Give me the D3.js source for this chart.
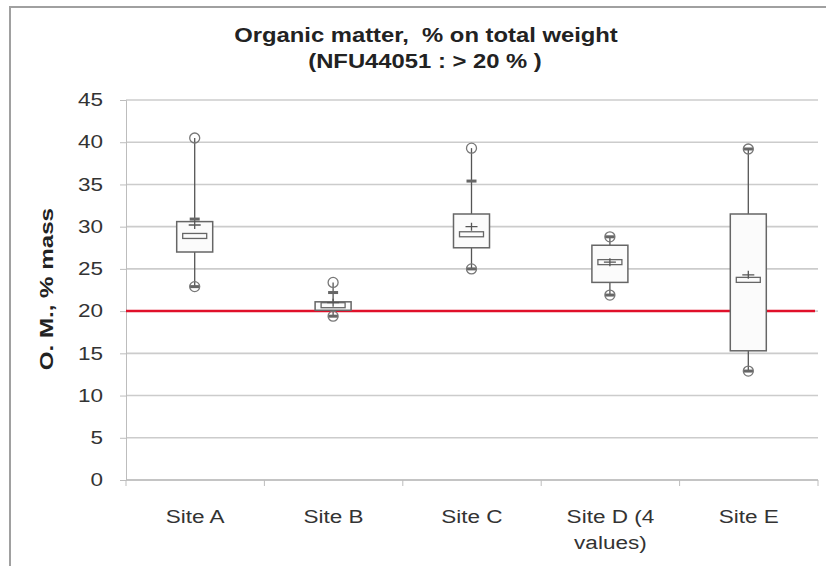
<!DOCTYPE html>
<html>
<head>
<meta charset="utf-8">
<script src="https://cdn.jsdelivr.net/npm/d3@7"></script>
<style>
  body { margin: 0; background: #fff; }
  svg { display: block; font-family: "Liberation Sans", Arial, sans-serif; }
</style>
</head>
<body>
<script>
// categories and box statistics
var sites = ['Site A', 'Site B', 'Site C', 'Site D (4|values)', 'Site E'];
var mins    = [22.9, 19.4, 25.0, 21.9, 12.9];
var p10     = [22.9, 19.4, 25.0, 21.9, 12.9];
var q1s     = [27.0, 20.1, 27.5, 23.4, 15.3];
var medians = [28.9, 20.7, 29.1, 25.8, 23.7];
var means   = [30.2, 21.0, 30.0, 25.8, 24.3];
var q3s     = [30.6, 21.1, 31.5, 27.8, 31.5];
var p90     = [30.9, 22.2, 35.4, 28.8, 39.2];
var maxs    = [40.5, 23.4, 39.3, 28.8, 39.2];
var yTicks  = [0, 5, 10, 15, 20, 25, 30, 35, 40, 45];
var limit   = 20; // NFU44051 threshold

var width = 826, height = 566;
var margin = {top: 100, right: 8, bottom: 86, left: 126};

// the original picture is stretched sideways, so widen the text a bit
function stretch(sel, k) {
    sel.each(function() {
        var w = this.getComputedTextLength();
        d3.select(this)
            .attr('textLength', w * k)
            .attr('lengthAdjust', 'spacingAndGlyphs');
    });
}

var svg = d3.select('body').append('svg')
    .attr('width', width)
    .attr('height', height);

// outer chart frame
svg.append('rect')
    .attr('x', 10).attr('y', 7)
    .attr('width', width + 20).attr('height', height + 20)
    .attr('fill', '#fff')
    .attr('stroke', '#a0a0a0')
    .attr('stroke-width', 2);

var x = d3.scaleBand()
    .domain(sites)
    .range([margin.left, width - margin.right]);

var y = d3.scaleLinear()
    .domain([0, 45])
    .range([height - margin.bottom, margin.top]);

// gridlines
svg.append('g')
    .selectAll('line')
    .data(yTicks)
    .enter().append('line')
    .attr('x1', margin.left)
    .attr('x2', width - margin.right)
    .attr('y1', function(d) { return y(d); })
    .attr('y2', function(d) { return y(d); })
    .attr('stroke', '#cccccc')
    .attr('stroke-width', 1.6);

// y axis
var yAxis = svg.append('g')
    .attr('transform', 'translate(' + margin.left + ',0)')
    .call(d3.axisLeft(y).tickValues(yTicks).tickSize(6).tickPadding(17));
yAxis.select('.domain').attr('stroke', '#bdbdbd');
yAxis.selectAll('.tick line').attr('stroke', '#bdbdbd');
yAxis.selectAll('.tick text')
    .attr('font-size', 18)
    .attr('fill', '#333')
    .call(stretch, 1.25);

// x axis
var xAxis = svg.append('g')
    .attr('transform', 'translate(0,' + y(0) + ')')
    .call(d3.axisBottom(x).tickSize(0).tickFormat(''));
xAxis.select('.domain').attr('stroke', '#bdbdbd').attr('stroke-width', 1.5)
    .attr('d', 'M' + margin.left + ',0H' + (width - margin.right));

// tick marks between categories
svg.append('g')
    .selectAll('line')
    .data(sites.map(function(s) { return x(s); }).concat([x(sites[sites.length - 1]) + x.bandwidth()]))
    .enter().append('line')
    .attr('x1', function(d) { return d; })
    .attr('x2', function(d) { return d; })
    .attr('y1', y(0))
    .attr('y2', y(0) + 6)
    .attr('stroke', '#bdbdbd');

// category labels (two lines when split by |)
var labels = svg.append('g')
    .selectAll('text')
    .data(sites)
    .enter().append('text')
    .attr('x', function(d) { return x(d) + x.bandwidth() / 2; })
    .attr('y', y(0) + 43)
    .attr('text-anchor', 'middle')
    .attr('font-size', 18)
    .attr('fill', '#333');
labels.each(function(d) {
    var parts = d.split('|');
    var t = d3.select(this);
    parts.forEach(function(p, i) {
        t.append('tspan')
            .attr('x', x(d) + x.bandwidth() / 2)
            .attr('dy', i === 0 ? 0 : 26)
            .text(p);
    });
});
labels.selectAll('tspan').call(stretch, 1.25);

// threshold line
svg.append('line')
    .attr('x1', margin.left)
    .attr('x2', width - 11)
    .attr('y1', y(limit))
    .attr('y2', y(limit))
    .attr('stroke', '#e0102a')
    .attr('stroke-width', 2.5);

// boxes
var boxW = 36, medW = 24;
var boxes = svg.append('g')
    .selectAll('g')
    .data(sites)
    .enter().append('g')
    .attr('transform', function(d) { return 'translate(' + (x(d) + x.bandwidth() / 2 - 0.5) + ',0)'; });

boxes.append('line')
    .attr('y1', function(d, i) { return y(mins[i]); })
    .attr('y2', function(d, i) { return y(maxs[i]); })
    .attr('stroke', '#555')
    .attr('stroke-width', 1.3);

boxes.append('rect')
    .attr('x', -boxW / 2)
    .attr('width', boxW)
    .attr('y', function(d, i) { return y(q3s[i]); })
    .attr('height', function(d, i) { return y(q1s[i]) - y(q3s[i]); })
    .attr('fill', '#fbfbfb')
    .attr('stroke', '#666')
    .attr('stroke-width', 1.5);

// median
boxes.append('rect')
    .attr('x', -medW / 2)
    .attr('width', medW)
    .attr('y', function(d, i) { return y(medians[i]) - 2.5; })
    .attr('height', 5)
    .attr('fill', 'none')
    .attr('stroke', '#666')
    .attr('stroke-width', 1.3);

// mean (+)
boxes.append('path')
    .attr('d', function(d, i) {
        var m = y(means[i]);
        return 'M-6,' + m + 'H6M0,' + (m - 4) + 'V' + (m + 4);
    })
    .attr('stroke', '#555')
    .attr('stroke-width', 1.3);

// 10th / 90th percentile dashes
boxes.selectAll('.cap')
    .data(function(d, i) { return [p10[i], p90[i]]; })
    .enter().append('rect')
    .attr('class', 'cap')
    .attr('x', -5)
    .attr('width', 10)
    .attr('y', function(v) { return y(v) - 1.5; })
    .attr('height', 3)
    .attr('fill', '#666');

// min / max circles
boxes.selectAll('.ext')
    .data(function(d, i) { return [mins[i], maxs[i]]; })
    .enter().append('circle')
    .attr('class', 'ext')
    .attr('cy', function(v) { return y(v); })
    .attr('r', 5)
    .attr('fill', 'none')
    .attr('stroke', '#777')
    .attr('stroke-width', 1.3);

// y label
svg.append('text')
    .attr('transform', 'translate(53,' + y(22.6) + ') rotate(-90)')
    .attr('text-anchor', 'middle')
    .attr('font-size', 19)
    .attr('font-weight', 'bold')
    .attr('fill', '#222')
    .text('O. M., % mass')
    .call(stretch, 1.27);

// title
var title = svg.append('text')
    .attr('y', 42)
    .attr('text-anchor', 'middle')
    .attr('font-size', 20)
    .attr('font-weight', 'bold')
    .attr('fill', '#222');
title.append('tspan').attr('x', 426).attr('xml:space', 'preserve')
    .text('Organic matter,  % on total weight');
title.append('tspan').attr('x', 425).attr('dy', 26)
    .text('(NFU44051 : > 20 % )');
title.selectAll('tspan').call(stretch, 1.19);
</script>
</body>
</html>
